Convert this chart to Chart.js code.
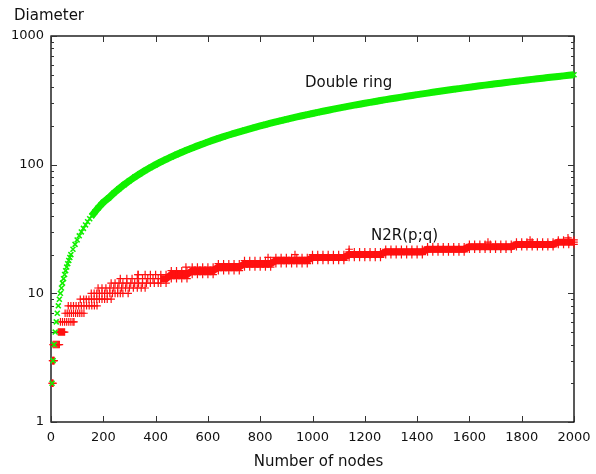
<!DOCTYPE html>
<html lang="en">
<head>
<meta charset="UTF-8">
<title>Diameter - Double ring vs N2R(p;q)</title>
<style>
    body { margin: 0; background: #fff; }
</style>
</head>
<body>
<canvas id="myChart" width="596" height="474"></canvas>

<script src="https://cdn.jsdelivr.net/npm/chart.js"></script>
<script>
// ---- values ----

// Double ring (green x)
var ringNodes = [4, 8, 12, 16, 20, 24, 28, 32, 36, 40, 44, 48, 52, 56, 60, 64, 68, 72, 76,
    84, 92, 100, 108, 116, 124, 132, 140, 148, 156, 168, 180, 192, 200,
    220, 240, 260, 280, 300, 320, 340, 360, 380, 400,
    420, 440, 460, 480, 500, 520, 540, 560, 580, 600,
    620, 640, 660, 680, 700, 720, 740, 760, 780, 800,
    820, 840, 860, 880, 900, 920, 940, 960, 980, 1000,
    1020, 1040, 1060, 1080, 1100, 1120, 1140, 1160, 1180, 1200,
    1220, 1240, 1260, 1280, 1300, 1320, 1340, 1360, 1380, 1400,
    1420, 1440, 1460, 1480, 1500, 1520, 1540, 1560, 1580, 1600,
    1620, 1640, 1660, 1680, 1700, 1720, 1740, 1760, 1780, 1800,
    1820, 1840, 1860, 1880, 1900, 1920, 1940, 1960, 1980, 2000];
var ringDiameter = [2, 3, 4, 5, 6, 7, 8, 9, 10, 11, 12, 13, 14, 15, 16, 17, 18, 19, 20,
    22, 24, 26, 28, 30, 32, 34, 36, 38, 40, 43, 46, 49, 51,
    55, 60, 65, 70, 75, 80, 85, 90, 95, 100,
    105, 110, 115, 120, 125, 130, 135, 140, 145, 150,
    155, 160, 165, 170, 175, 180, 185, 190, 195, 200,
    205, 210, 215, 220, 225, 230, 235, 240, 245, 250,
    255, 260, 265, 270, 275, 280, 285, 290, 295, 300,
    305, 310, 315, 320, 325, 330, 335, 340, 345, 350,
    355, 360, 365, 370, 375, 380, 385, 390, 395, 400,
    405, 410, 415, 420, 425, 430, 435, 440, 445, 450,
    455, 460, 465, 470, 475, 480, 485, 490, 495, 500];

// N2R(p;q) (red +), small sizes: one row per diameter step
var n2rNodes = [
    4, 6, 8,
    6, 8, 10, 12,
    8, 12, 16, 20, 24, 28, 32,
    28, 32, 36, 40, 44, 48, 52,
    36, 44, 52, 60, 68, 76, 84, 88,
    54, 62, 70, 78, 86, 94, 102, 110, 118, 126,
    66, 76, 86, 96, 106, 116, 126, 136, 146, 156, 166, 176,
    112, 125, 135, 145, 155, 165, 175, 185, 195, 205, 215, 230,
    154, 165, 175, 185, 195, 205, 215, 225, 235, 245, 255, 265, 275, 295,
    180, 195, 210, 225, 240, 255, 270, 285, 300, 315, 330, 345, 360,
    230, 245, 260, 275, 290, 305, 320, 335, 350, 365, 380, 395, 410,
    265, 290, 310, 330, 350, 370, 390, 410,
    333, 360, 380, 400];
var n2rDiameter = [
    2, 2, 2,
    3, 3, 3, 3,
    4, 4, 4, 4, 4, 4, 4,
    5, 5, 5, 5, 5, 5, 5,
    6, 6, 6, 6, 6, 6, 6, 6,
    7, 7, 7, 7, 7, 7, 7, 7, 7, 7,
    8, 8, 8, 8, 8, 8, 8, 8, 8, 8, 8, 8,
    9, 9, 9, 9, 9, 9, 9, 9, 9, 9, 9, 9,
    10, 10, 10, 10, 10, 10, 10, 10, 10, 10, 10, 10, 10, 10,
    11, 11, 11, 11, 11, 11, 11, 11, 11, 11, 11, 11, 11,
    12, 12, 12, 12, 12, 12, 12, 12, 12, 12, 12, 12, 12,
    13, 13, 13, 13, 13, 13, 13, 13,
    14, 14, 14, 14];

// N2R(p;q) for larger sizes: lower / middle / upper edge of the band
var bandNodes = [420, 440, 460, 480, 500, 520, 540, 560, 580, 600,
    620, 640, 660, 680, 700, 720, 740, 760, 780, 800,
    820, 840, 860, 880, 900, 920, 940, 960, 980, 1000,
    1020, 1040, 1060, 1080, 1100, 1120, 1140, 1160, 1180, 1200,
    1220, 1240, 1260, 1280, 1300, 1320, 1340, 1360, 1380, 1400,
    1420, 1440, 1460, 1480, 1500, 1520, 1540, 1560, 1580, 1600,
    1620, 1640, 1660, 1680, 1700, 1720, 1740, 1760, 1780, 1800,
    1820, 1840, 1860, 1880, 1900, 1920, 1940, 1960, 1980, 2000];
var bandLow = [12, 12, 13, 13, 13, 13, 14, 14, 14, 14,
    14, 15, 15, 15, 15, 15, 16, 16, 16, 16,
    16, 16, 17, 17, 17, 17, 17, 17, 17, 18,
    18, 18, 18, 18, 18, 18, 19, 19, 19, 19,
    19, 19, 19, 20, 20, 20, 20, 20, 20, 20,
    20, 21, 21, 21, 21, 21, 21, 21, 21, 22,
    22, 22, 22, 22, 22, 22, 22, 22, 23, 23,
    23, 23, 23, 23, 23, 23, 24, 24, 24, 24];
var bandMid = [13, 13, 14, 14, 14, 14, 15, 15, 15, 15,
    15, 16, 16, 16, 16, 16, 17, 17, 17, 17,
    17, 17, 18, 18, 18, 18, 18, 18, 18, 19,
    19, 19, 19, 19, 19, 19, 20, 20, 20, 20,
    20, 20, 20, 21, 21, 21, 21, 21, 21, 21,
    21, 22, 22, 22, 22, 22, 22, 22, 22, 23,
    23, 23, 23, 23, 23, 23, 23, 23, 24, 24,
    24, 24, 24, 24, 24, 24, 25, 25, 25, 25];
var bandHigh = [14, 14, 15, 15, 15, 15, 16, 16, 16, 16,
    16, 17, 17, 17, 17, 17, 18, 18, 18, 18,
    18, 18, 19, 19, 19, 19, 19, 19, 19, 20,
    20, 20, 20, 20, 20, 20, 21, 21, 21, 21,
    21, 21, 21, 22, 22, 22, 22, 22, 22, 22,
    22, 23, 23, 23, 23, 23, 23, 23, 23, 24,
    24, 24, 24, 24, 24, 24, 24, 24, 25, 25,
    25, 25, 25, 25, 25, 25, 26, 26, 26, 26];
// a few stray points above the band
var strayNodes = [333, 516, 830, 933, 1140, 1671, 1832, 1977];
var strayDiameter = [14, 16, 19, 20, 22, 25, 26, 27];

var xTicks = [0, 200, 400, 600, 800, 1000, 1200, 1400, 1600, 1800, 2000];
var yTickLabels = [1, 10, 100, 1000];

// curve labels, anchored in data units
var curveLabels = ['Double ring', 'N2R(p;q)'];
var curveLabelNodes = [971, 1224];
var curveLabelDiameter = [401, 26];

// ---- build points ----
function pairs(xs, ys) {
    return xs.map(function (x, i) { return {x: x, y: ys[i]}; });
}
var ringPoints = pairs(ringNodes, ringDiameter);
var n2rPoints = pairs(n2rNodes, n2rDiameter)
    .concat(pairs(bandNodes, bandLow))
    .concat(pairs(bandNodes, bandMid))
    .concat(pairs(bandNodes, bandHigh))
    .concat(pairs(strayNodes, strayDiameter));
var bandCore = pairs(bandNodes, bandMid);

var FONT = "'DejaVu Sans', Verdana, sans-serif";
var GREEN = '#11f000';
var RED = '#ff1010';

// frame, inward ticks (all four sides) and the text labels
var framePlugin = {
    id: 'frame',
    beforeDatasetsDraw: function (chart) {
        var ctx = chart.ctx, a = chart.chartArea;
        var xs = chart.scales.x, ys = chart.scales.y;
        ctx.save();
        ctx.strokeStyle = '#000';
        ctx.lineWidth = 1.3;
        ctx.strokeRect(a.left, a.top, a.right - a.left, a.bottom - a.top);
        ctx.lineWidth = 1;
        ctx.strokeStyle = '#333';
        ctx.beginPath();
        xTicks.forEach(function (v) {
            var px = Math.round(xs.getPixelForValue(v)) + 0.5;
            ctx.moveTo(px, a.bottom); ctx.lineTo(px, a.bottom - 6);
            ctx.moveTo(px, a.top); ctx.lineTo(px, a.top + 6);
        });
        for (var dec = 1; dec <= 1000; dec *= 10) {
            for (var m = 1; m <= 9; m++) {
                var v = m * dec;
                if (v > 1000) break;
                var len = m === 1 ? 6 : 3;
                var py = Math.round(ys.getPixelForValue(v)) + 0.5;
                ctx.moveTo(a.left, py); ctx.lineTo(a.left + len, py);
                ctx.moveTo(a.right, py); ctx.lineTo(a.right - len, py);
            }
        }
        ctx.stroke();
        ctx.restore();
    },
    afterDraw: function (chart) {
        var ctx = chart.ctx, a = chart.chartArea;
        var xs = chart.scales.x, ys = chart.scales.y;
        ctx.save();
        ctx.fillStyle = '#111';
        ctx.font = '15px ' + FONT;
        ctx.textBaseline = 'alphabetic';
        ctx.textAlign = 'left';
        ctx.fillText('Diameter', 14, 20);
        curveLabels.forEach(function (t, i) {
            ctx.fillText(t, xs.getPixelForValue(curveLabelNodes[i]), ys.getPixelForValue(curveLabelDiameter[i]));
        });
        ctx.textAlign = 'center';
        ctx.fillText('Number of nodes', (a.left + a.right) / 2 + 6, 466);
        ctx.restore();
    }
};

new Chart('myChart', {
    type: 'scatter',
    data: {
        datasets: [{
            label: 'Double ring',
            data: ringPoints,
            showLine: true,
            borderColor: GREEN,
            borderWidth: 7,
            segment: {
                // the early crosses stand apart, only join them once they crowd together
                borderColor: function (c) { return c.p0.parsed.x < 150 ? 'rgba(0,0,0,0)' : GREEN; }
            },
            pointStyle: 'crossRot',
            pointRadius: 3.5,
            pointBorderWidth: 1.6,
            pointBorderColor: GREEN,
            pointBackgroundColor: GREEN,
            clip: 6,
            order: 0
        }, {
            label: 'N2R(p;q)',
            data: n2rPoints,
            showLine: false,
            pointStyle: 'cross',
            pointRadius: 3.8,
            pointBorderWidth: 1.2,
            pointBorderColor: RED,
            pointBackgroundColor: RED,
            clip: 6,
            order: 1
        }, {
            // solid core of the crowded red band
            label: 'N2R core',
            data: bandCore,
            showLine: true,
            borderColor: RED,
            borderWidth: 7,
            pointRadius: 0,
            clip: 6,
            order: 2
        }]
    },
    options: {
        responsive: false,
        animation: false,
        events: [],
        layout: { padding: { top: 36, right: 22, left: 0, bottom: 0 } },
        plugins: {
            legend: { display: false },
            tooltip: { enabled: false }
        },
        scales: {
            x: {
                type: 'linear',
                min: 0,
                max: 2000,
                grid: { display: false, drawTicks: false },
                border: { display: false },
                ticks: {
                    stepSize: 200,
                    padding: 8,
                    color: '#111',
                    font: { family: FONT, size: 13 },
                    callback: function (v) { return String(v); }
                },
                afterFit: function (s) {
                    s.height = 52;
                    // let layout.padding alone decide the right edge
                    s.paddingLeft = 0;
                    s.paddingRight = 0;
                }
            },
            y: {
                type: 'logarithmic',
                min: 1,
                max: 1000,
                grid: { display: false, drawTicks: false },
                border: { display: false },
                ticks: {
                    autoSkip: false,
                    padding: 7,
                    color: '#111',
                    font: { family: FONT, size: 13 },
                    callback: function (v) { return yTickLabels.indexOf(v) >= 0 ? String(v) : ''; }
                },
                afterFit: function (s) { s.width = 51; }
            }
        }
    },
    plugins: [framePlugin]
});
</script>
</body>
</html>
